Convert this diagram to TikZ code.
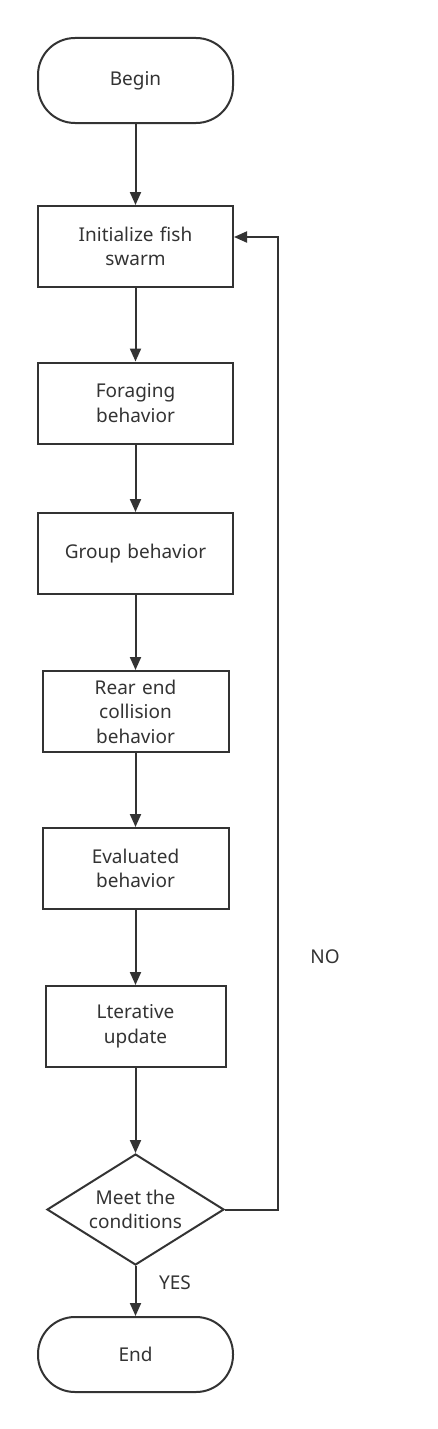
\documentclass[tikz,border=0pt]{standalone}
\usepackage{fontspec}
\setmainfont{Noto Sans}
\usetikzlibrary{arrows.meta,shapes.geometric}

\definecolor{linegray}{HTML}{333333}

\tikzset{
    box/.style={draw=linegray, line width=2pt, minimum width=195pt, minimum height=81pt,
        align=center, text width=180pt, inner sep=0pt},
    terminal/.style={box, rounded corners=37pt},
    decision/.style={draw=linegray, line width=2pt, diamond, aspect=1.6,
        minimum width=177pt, minimum height=111pt, align=center, inner sep=0pt},
    flow/.style={draw=linegray, line width=2pt, -{Triangle[length=13pt,width=11pt]}}
}

\begin{document}
\begin{tikzpicture}[x=1pt, y=-1pt, font=\fontsize{19}{24.5}\selectfont, text=linegray]

\useasboundingbox (0,0) rectangle (437,1429);

% Terminals
\node[terminal, minimum height=85pt] (begin) at (135.5,80.5) {Begin};
\node[terminal, minimum height=75pt] (end) at (135.5,1354.5) {End};

% Process steps
\node[box] (init) at (135.5,246.5) {Initialize fish\\swarm};
\node[box] (forage) at (135.5,403) {Foraging\\behavior};
\node[box] (group) at (135.5,553.5) {Group behavior};
\node[box, minimum width=186pt] (rear) at (135.5,711.5) {Rear end\\collision\\behavior};
\node[box, minimum width=186pt] (eval) at (135.5,868.5) {Evaluated\\behavior};
\node[box, minimum width=177pt] (iter) at (135.5,1026.5) {Lterative\\update};

% Decision
\node[decision] (check) at (135.5,1209.5) {Meet the\\conditions};

% Loop corner
\coordinate (back) at (278,237);

% Arrows
\draw[flow] (begin) -- (init);
\draw[flow] (init) -- (forage);
\draw[flow] (forage) -- (group);
\draw[flow] (group) -- (rear);
\draw[flow] (rear) -- (eval);
\draw[flow] (eval) -- (iter);
\draw[flow] (iter) -- (check);
\draw[flow] (check) -- (end);
\draw[flow] (check.east) -| (back) -- (init.east |- back);

% Labels
\node (no) at (325,957) {NO};
\node (yes) at (175,1283) {YES};

\end{tikzpicture}
\end{document}
